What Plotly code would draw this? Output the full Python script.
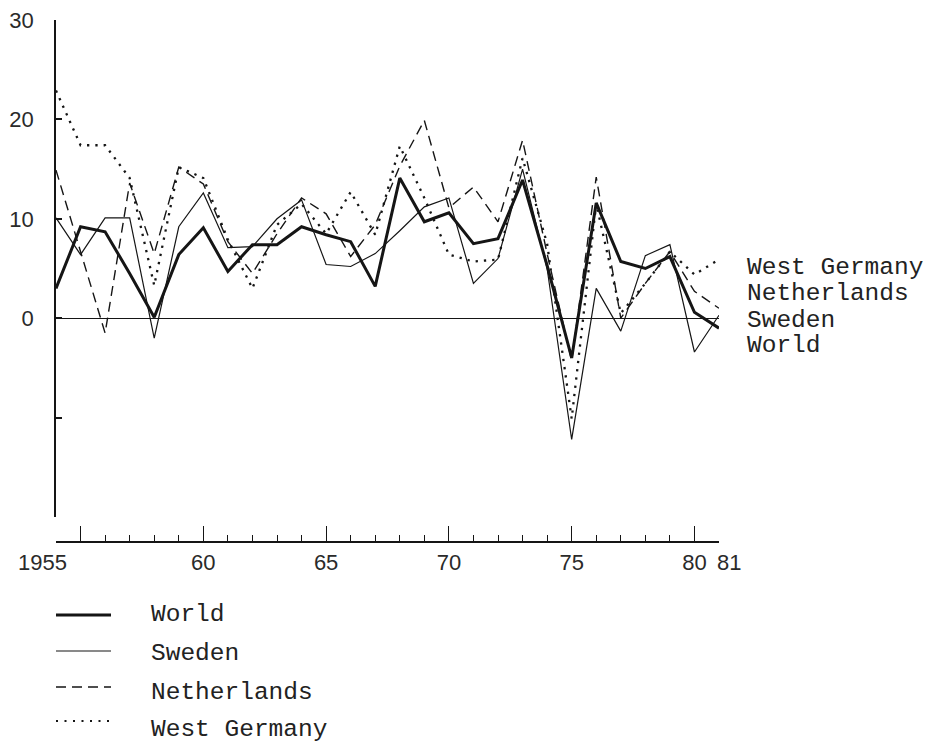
import plotly.graph_objects as go

# ---- data ----
years = [1954, 1955, 1956, 1957, 1958, 1959, 1960, 1961, 1962, 1963,
         1964, 1965, 1966, 1967, 1968, 1969, 1970, 1971, 1972, 1973,
         1974, 1975, 1976, 1977, 1978, 1979, 1980, 1981]

world = [3.0, 9.2, 8.7, 4.5, 0.1, 6.4, 9.1, 4.7, 7.4, 7.4,
         9.2, 8.4, 7.7, 3.2, 14.1, 9.7, 10.6, 7.5, 8.0, 13.9,
         5.3, -4.0, 11.6, 5.7, 5.0, 6.2, 0.6, -1.0]

sweden = [10.1, 6.4, 10.1, 10.1, -2.0, 9.2, 12.6, 7.1, 7.2, 10.0,
          11.9, 5.4, 5.2, 6.5, 8.8, 11.2, 12.1, 3.5, 6.0, 15.0,
          5.0, -12.2, 3.0, -1.3, 6.3, 7.4, -3.4, 0.3]

netherlands = [14.9, 6.7, -1.5, 13.6, 6.5, 15.2, 13.5, 7.7, 4.5, 8.5,
               12.1, 10.5, 6.2, 9.4, 15.3, 19.9, 11.1, 13.2, 9.7, 17.9,
               6.5, -4.3, 14.2, 0.0, 3.5, 6.7, 2.7, 1.0]

west_germany = [22.9, 17.4, 17.4, 14.1, 3.3, 15.2, 14.1, 7.9, 3.0, 9.4,
                11.5, 8.5, 12.7, 8.4, 17.3, 12.1, 6.4, 5.7, 5.9, 16.1,
                7.5, -10.1, 11.5, 0.5, 3.5, 6.7, 4.4, 5.9]

y_tickvals = [-20, -10, 0, 10, 20, 30]
y_ticktext = ["", "", "0", "10", "20", "30"]
x_tickvals = [1955, 1960, 1965, 1970, 1975, 1980]
x_ticktext = ["", "60", "65", "70", "75", "80"]
x_extra_labels = [("1955", 1953.45), ("81", 1981.4)]

series_names = ["World", "Sweden", "Netherlands", "West Germany"]

# ---- styling ----
INK = "#151515"
NUM_FONT = dict(family="Liberation Sans, Arial, sans-serif", size=22, color="#2a2a2a")
TYPE_FONT = dict(family="Liberation Mono, Courier New, monospace", size=24.5, color="#222222")

styles = {
    "World": dict(color=INK, width=3.0, dash="solid"),
    "Sweden": dict(color=INK, width=1.2, dash="solid"),
    "Netherlands": dict(color=INK, width=1.4, dash="10px,6px"),
    "West Germany": dict(color=INK, width=2.3, dash="2.3px,6px"),
}
values = {"World": world, "Sweden": sweden, "Netherlands": netherlands,
          "West Germany": west_germany}

W, H = 932, 746
# plot-area geometry in pixels
L, R, T, B = 56, 719, 20, 542
Y_BOTTOM = 517  # where the y axis (value -20) ends
X0, X1 = years[0], years[-1]


def px_x(p):
    return (p - L) / (R - L)


def px_y(p):
    return (B - p) / (B - T)


def year_to_paper(yr):
    return (yr - X0) / (X1 - X0)


fig = go.Figure()
for name in ["West Germany", "Netherlands", "Sweden", "World"]:
    fig.add_trace(go.Scatter(x=years, y=values[name], mode="lines", name=name,
                             line=styles[name], showlegend=False, hoverinfo="skip"))

# ---- right-hand series labels ----
right_labels = ["West Germany", "Netherlands", "Sweden", "World"]
right_y = [267, 293.5, 320, 346]
annotations = []
for txt, yy in zip(right_labels, right_y):
    annotations.append(dict(text=txt, xref="paper", yref="paper", x=px_x(745), y=px_y(yy),
                            xanchor="left", yanchor="middle", showarrow=False, font=TYPE_FONT))

# ---- extra x labels ("1955" at the origin, "81" at the end) ----
for txt, yr in x_extra_labels:
    annotations.append(dict(text=txt, xref="paper", yref="paper", x=year_to_paper(yr), y=px_y(562),
                            xanchor="center", yanchor="middle", showarrow=False, font=NUM_FONT))

# ---- bottom legend ----
shapes = []
legend_line_y = [615, 651, 687, 721]
legend_text_y = [614, 653, 692, 729]
for name, ly, ty in zip(series_names, legend_line_y, legend_text_y):
    st = dict(styles[name])
    if name == "West Germany":
        st["width"] = 2.0
        st["dash"] = "2px,6.5px"
    shapes.append(dict(type="line", xref="paper", yref="paper",
                       x0=px_x(56), x1=px_x(111), y0=px_y(ly), y1=px_y(ly), line=st))
    annotations.append(dict(text=name, xref="paper", yref="paper", x=px_x(149), y=px_y(ty),
                            xanchor="left", yanchor="middle", showarrow=False, font=TYPE_FONT))

fig.update_layout(
    width=W, height=H,
    margin=dict(l=L, r=W - R, t=T, b=H - B, pad=0, autoexpand=False),
    paper_bgcolor="white", plot_bgcolor="white",
    showlegend=False,
    annotations=annotations,
    shapes=shapes,
    xaxis=dict(range=[X0, X1], anchor="free", position=0,
               showgrid=False, zeroline=False,
               showline=True, linecolor=INK, linewidth=1.5,
               tickmode="array", tickvals=x_tickvals, ticktext=x_ticktext,
               ticks="inside", ticklen=15, tickwidth=1.3, tickcolor=INK,
               tickfont=NUM_FONT, ticklabelstandoff=1,
               minor=dict(dtick=1, tick0=X0, ticks="inside", ticklen=6,
                          tickwidth=1.2, tickcolor=INK, showgrid=False)),
    yaxis=dict(range=[-20, 30], domain=[px_y(Y_BOTTOM), 1],
               showgrid=False,
               zeroline=True, zerolinecolor=INK, zerolinewidth=1.3,
               showline=True, linecolor=INK, linewidth=1.5,
               tickmode="array", tickvals=y_tickvals, ticktext=y_ticktext,
               ticks="inside", ticklen=6, tickwidth=1.5, tickcolor=INK,
               tickfont=NUM_FONT, ticklabelstandoff=16),
)

fig.write_html("out.html", config={"displayModeBar": False},
               post_script="document.body.style.margin='0';document.body.style.overflow='hidden';")
